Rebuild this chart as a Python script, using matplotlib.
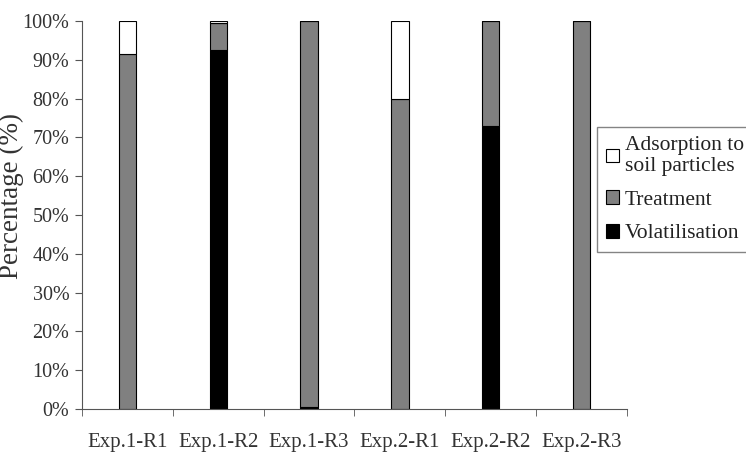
import numpy as np
import matplotlib.pyplot as plt

categories = ["Exp.1-R1", "Exp.1-R2", "Exp.1-R3", "Exp.2-R1", "Exp.2-R2", "Exp.2-R3"]
volatilisation = [0.0, 92.5, 0.5, 0.0, 73.0, 0.0]
treatment = [91.5, 7.0, 99.5, 80.0, 27.0, 100.0]
adsorption = [8.5, 0.5, 0.0, 20.0, 0.0, 0.0]

plt.rcParams["font.family"] = ["Liberation Serif", "DejaVu Serif"]

fig = plt.figure(figsize=(7.46, 4.53), dpi=100)
ax = fig.add_axes([0.1099, 0.0971, 0.7306, 0.8565])

x = np.arange(len(categories))
width = 0.19
vol = np.array(volatilisation)
trt = np.array(treatment)
ads = np.array(adsorption)

b1 = ax.bar(x, vol, width, color="black", edgecolor="black", linewidth=0.8,
            label="Volatilisation")
b2 = ax.bar(x, trt, width, bottom=vol, color="#808080", edgecolor="black",
            linewidth=0.8, label="Treatment")
b3 = ax.bar(x, ads, width, bottom=vol + trt, color="white", edgecolor="black",
            linewidth=0.8, label="Adsorption to\nsoil particles")

ax.set_xlim(-0.5, len(categories) - 0.5)
ax.set_ylim(0, 100)
ax.set_yticks(np.arange(0, 101, 10))
ax.set_yticklabels([f"{v}%" for v in range(0, 101, 10)], fontsize=14.5, color="#333333")
ax.set_xticks(x)
ax.set_xticklabels(categories, fontsize=15, color="#333333")
ax.set_xticks(np.arange(-0.5, len(categories), 1), minor=True)
ax.tick_params(axis="x", which="major", length=0, pad=17)
ax.tick_params(axis="x", which="minor", length=5, direction="out", color="#555555")
ax.tick_params(axis="y", length=5, color="#555555", pad=4)
ax.set_ylabel("Percentage (%)", fontsize=19.5, color="#333333")
ax.yaxis.set_label_coords(-0.106, 0.55)

for s in ["top", "right"]:
    ax.spines[s].set_visible(False)
for s in ["left", "bottom"]:
    ax.spines[s].set_color("#555555")

leg = fig.legend(handles=[b3, b2, b1], loc="upper left",
                 bbox_to_anchor=(0.8003, 0.7196), fontsize=15.5, frameon=True,
                 fancybox=False, edgecolor="#666666", handlelength=0.6,
                 handleheight=0.6, handletextpad=0.3, borderpad=0.4,
                 labelspacing=0.65, borderaxespad=0)
leg.get_frame().set_linewidth(1.0)
for t in leg.get_texts():
    t.set_color("#222222")

plt.savefig("out.png", dpi=100)
